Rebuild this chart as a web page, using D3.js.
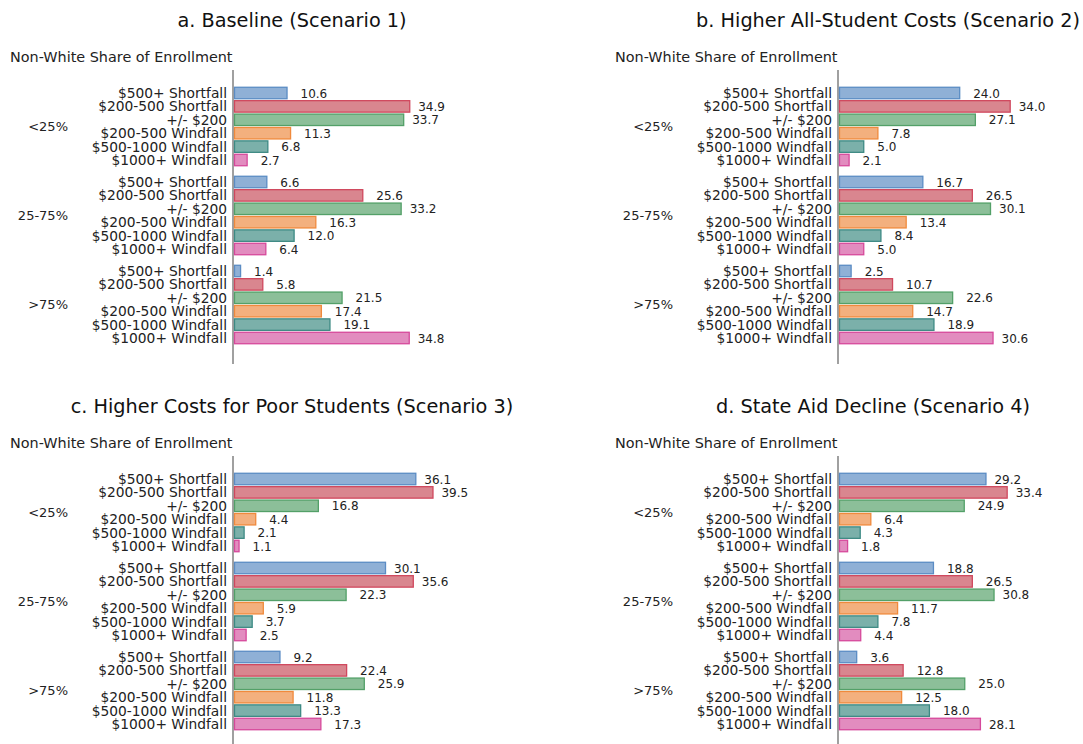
<!DOCTYPE html>
<html>
<head>
<meta charset="utf-8">
<script src="https://cdn.jsdelivr.net/npm/d3@7"></script>
<style>
  body { margin: 0; background: #fff; }
  svg { display: block; font-family: "DejaVu Sans", sans-serif; }
</style>
</head>
<body>
<svg id="chart" width="1083" height="744"></svg>
<script>
// data
const groups = ['<25%', '25-75%', '>75%'];
const outcomes = ['$500+ Shortfall', '$200-500 Shortfall', '+/- $200',
  '$200-500 Windfall', '$500-1000 Windfall', '$1000+ Windfall'];
const titles = [
  'a. Baseline (Scenario 1)',
  'b. Higher All-Student Costs (Scenario 2)',
  'c. Higher Costs for Poor Students (Scenario 3)',
  'd. State Aid Decline (Scenario 4)'
];
const baseline = [
  [10.6, 34.9, 33.7, 11.3, 6.8, 2.7],
  [6.6, 25.6, 33.2, 16.3, 12.0, 6.4],
  [1.4, 5.8, 21.5, 17.4, 19.1, 34.8]
];
const allStudent = [
  [24.0, 34.0, 27.1, 7.8, 5.0, 2.1],
  [16.7, 26.5, 30.1, 13.4, 8.4, 5.0],
  [2.5, 10.7, 22.6, 14.7, 18.9, 30.6]
];
const poorStudents = [
  [36.1, 39.5, 16.8, 4.4, 2.1, 1.1],
  [30.1, 35.6, 22.3, 5.9, 3.7, 2.5],
  [9.2, 22.4, 25.9, 11.8, 13.3, 17.3]
];
const stateAid = [
  [29.2, 33.4, 24.9, 6.4, 4.3, 1.8],
  [18.8, 26.5, 30.8, 11.7, 7.8, 4.4],
  [3.6, 12.8, 25.0, 12.5, 18.0, 28.1]
];
const scenarios = [baseline, allStudent, poorStudents, stateAid];

const fills = ['#8fb0d6', '#d9868f', '#8cbf99', '#f3b07e', '#7bb0aa', '#e28cbf'];
const strokes = ['#5b8cc4', '#d0485e', '#53a068', '#f08a3c', '#3d8a84', '#d6499b'];

// title centres per panel (layout, not data)
const titleCx = [292, 888, 292, 873];

const svg = d3.select('#chart');

const x = d3.scaleLinear().domain([0, 40]).range([0, 202]);
const yGroup = d3.scaleBand().domain(groups)
  .range([86.3, 344.7]).paddingInner(0.0966).paddingOuter(0);
const yBar = d3.scaleBand().domain(outcomes)
  .range([0, yGroup.bandwidth()]).paddingInner(0.07).paddingOuter(0.035);

scenarios.forEach((data, i) => {
  const ox = (i % 2) * 605;
  const oy = Math.floor(i / 2) * 386;
  const axisX = 234;
  const g = svg.append('g').attr('transform', `translate(${ox},${oy})`);

  // title
  g.append('text')
    .attr('x', titleCx[i] - ox)
    .attr('y', 27)
    .attr('text-anchor', 'middle')
    .style('font-size', '19.3px')
    .attr('fill', '#111')
    .text(titles[i]);

  g.append('text')
    .attr('x', 10).attr('y', 62)
    .style('font-size', '14.4px')
    .attr('fill', '#222')
    .text('Non-White Share of Enrollment');

  // axis spine
  g.append('line')
    .attr('x1', axisX - 1).attr('x2', axisX - 1)
    .attr('y1', 70).attr('y2', 364)
    .attr('stroke', '#808080').attr('stroke-width', 1.5);

  groups.forEach((grp, gi) => {
    const gy = yGroup(grp);
    g.append('text')
      .attr('x', 68)
      .attr('y', gy + yGroup.bandwidth() / 2)
      .attr('dy', '0.35em')
      .attr('text-anchor', 'end')
      .style('font-size', '13px')
      .attr('fill', '#222')
      .text(grp);

    const rows = g.append('g').attr('transform', `translate(0,${gy})`);
    const vals = data[gi].map((v, k) => ({ v, k, name: outcomes[k] }));

    rows.selectAll('text.cat').data(vals).join('text')
      .attr('class', 'cat')
      .attr('x', 227)
      .attr('y', d => yBar(d.name) + yBar.bandwidth() / 2)
      .attr('dy', '0.36em')
      .attr('text-anchor', 'end')
      .style('font-size', '13.8px')
      .attr('fill', '#222')
      .text(d => d.name);

    rows.selectAll('rect').data(vals).join('rect')
      .attr('x', axisX + 0.5)
      .attr('y', d => yBar(d.name) + 0.5)
      .attr('width', d => Math.max(0, x(d.v) - 1))
      .attr('height', yBar.bandwidth() - 1)
      .attr('fill', d => fills[d.k])
      .attr('stroke', d => strokes[d.k])
      .attr('stroke-width', 1.3);

    rows.selectAll('text.val').data(vals).join('text')
      .attr('class', 'val')
      .attr('x', d => axisX + x(d.v) + (d.v > 28 ? 8 : 13))
      .attr('y', d => yBar(d.name) + yBar.bandwidth() / 2)
      .attr('dy', '0.38em')
      .style('font-size', '12px')
      .attr('fill', '#222')
      .text(d => d.v.toFixed(1));
  });
});
</script>
</body>
</html>
